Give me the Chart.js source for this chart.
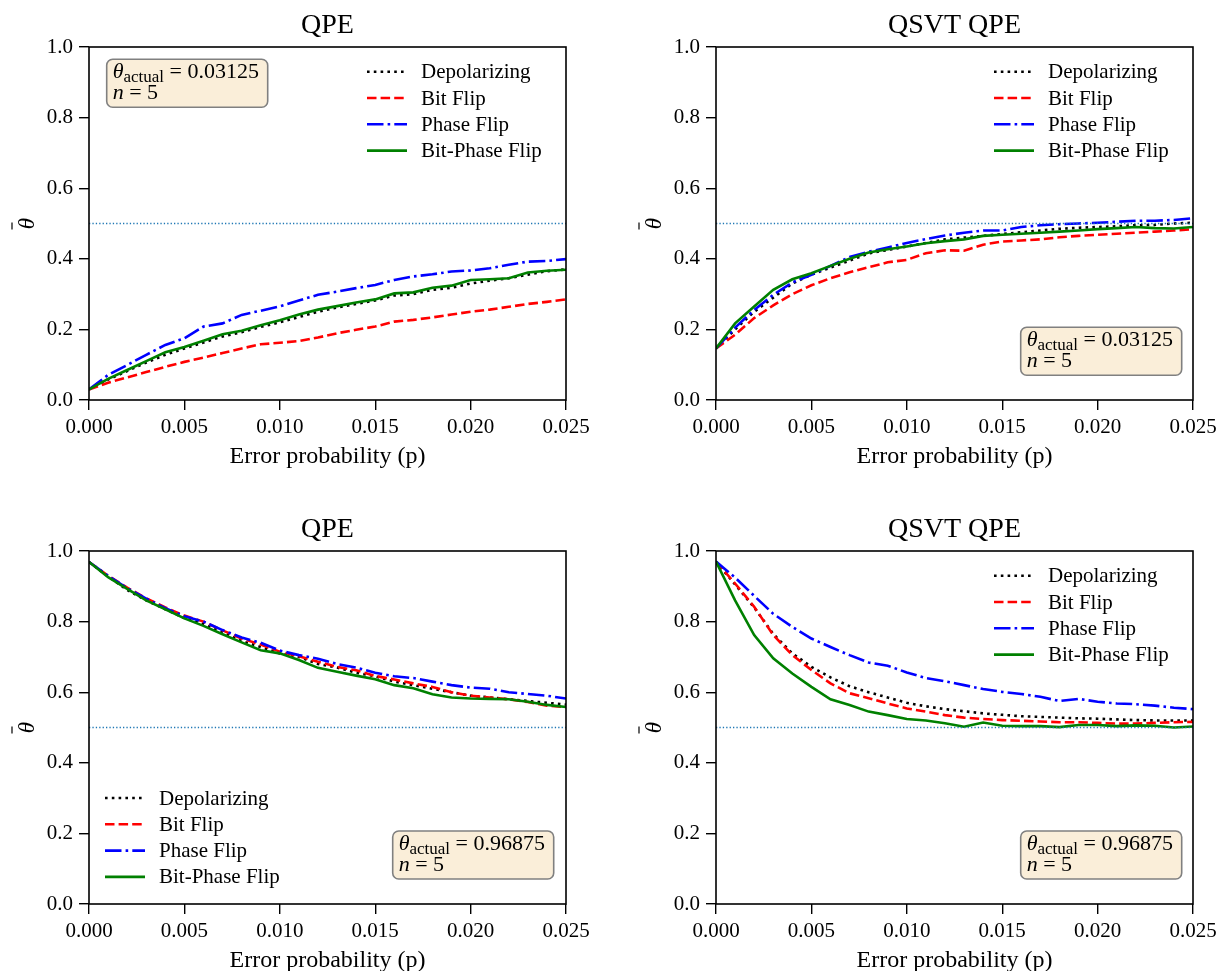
<!DOCTYPE html>
<html>
<head>
<meta charset="utf-8">
<script src="https://cdn.jsdelivr.net/npm/chart.js@4.4.1/dist/chart.umd.min.js"></script>
<style>
  html, body { margin: 0; padding: 0; background: #fff; }
  #wrap { position: relative; width: 1216px; height: 971px; }
  #wrap canvas { position: absolute; left: 0; top: 0; }
</style>
</head>
<body>
<div id="wrap">
  <canvas id="c-tl" width="1216" height="971"></canvas>
  <canvas id="c-tr" width="1216" height="971"></canvas>
  <canvas id="c-bl" width="1216" height="971"></canvas>
  <canvas id="c-br" width="1216" height="971"></canvas>
</div>
<script>
// error probability p (x values)
const pValues = [0, 0.001, 0.002, 0.003, 0.004, 0.005, 0.006, 0.007, 0.008, 0.009, 0.010, 0.011, 0.012,
                 0.013, 0.014, 0.015, 0.016, 0.017, 0.018, 0.019, 0.020, 0.021, 0.022, 0.023, 0.024, 0.025];
const xTicks = [0, 0.005, 0.010, 0.015, 0.020, 0.025];
const yTicks = [0, 0.2, 0.4, 0.6, 0.8, 1.0];
const refLine = 0.5;

const seriesNames = ['Depolarizing', 'Bit Flip', 'Phase Flip', 'Bit-Phase Flip'];

// QPE, theta_actual = 0.03125
const qpeLowDepol    = [0.030, 0.058, 0.082, 0.106, 0.128, 0.146, 0.163, 0.180, 0.192, 0.207, 0.220, 0.235, 0.250, 0.262, 0.272, 0.282, 0.296, 0.300, 0.312, 0.318, 0.330, 0.338, 0.345, 0.355, 0.365, 0.370];
const qpeLowBit      = [0.030, 0.049, 0.064, 0.079, 0.094, 0.108, 0.120, 0.133, 0.146, 0.158, 0.162, 0.167, 0.177, 0.189, 0.199, 0.208, 0.222, 0.227, 0.234, 0.242, 0.250, 0.256, 0.264, 0.272, 0.278, 0.285];
const qpeLowPhase    = [0.030, 0.071, 0.099, 0.128, 0.156, 0.175, 0.208, 0.217, 0.241, 0.253, 0.265, 0.282, 0.298, 0.307, 0.317, 0.326, 0.340, 0.350, 0.356, 0.364, 0.367, 0.373, 0.383, 0.392, 0.394, 0.399];
const qpeLowBitPhase = [0.030, 0.060, 0.085, 0.110, 0.135, 0.150, 0.168, 0.186, 0.196, 0.212, 0.226, 0.242, 0.256, 0.266, 0.276, 0.285, 0.302, 0.305, 0.318, 0.324, 0.340, 0.342, 0.345, 0.361, 0.366, 0.369];

// QSVT QPE, theta_actual = 0.03125
const qsvtLowDepol    = [0.146, 0.200, 0.250, 0.290, 0.330, 0.355, 0.375, 0.395, 0.415, 0.425, 0.435, 0.445, 0.455, 0.460, 0.465, 0.470, 0.475, 0.480, 0.485, 0.488, 0.490, 0.492, 0.495, 0.496, 0.500, 0.502];
const qsvtLowBit      = [0.146, 0.185, 0.232, 0.268, 0.300, 0.325, 0.345, 0.362, 0.376, 0.390, 0.397, 0.416, 0.424, 0.423, 0.440, 0.449, 0.452, 0.455, 0.461, 0.465, 0.468, 0.471, 0.474, 0.477, 0.480, 0.484];
const qsvtLowPhase    = [0.146, 0.205, 0.255, 0.298, 0.333, 0.355, 0.380, 0.405, 0.420, 0.432, 0.445, 0.456, 0.466, 0.474, 0.480, 0.480, 0.490, 0.495, 0.498, 0.500, 0.502, 0.505, 0.508, 0.508, 0.510, 0.515];
const qsvtLowBitPhase = [0.146, 0.217, 0.265, 0.312, 0.342, 0.359, 0.380, 0.400, 0.418, 0.427, 0.435, 0.444, 0.450, 0.455, 0.465, 0.468, 0.471, 0.474, 0.477, 0.480, 0.484, 0.487, 0.490, 0.487, 0.486, 0.490];

// QPE, theta_actual = 0.96875
const qpeHighDepol    = [0.969, 0.928, 0.890, 0.860, 0.835, 0.810, 0.793, 0.770, 0.745, 0.728, 0.710, 0.700, 0.680, 0.670, 0.655, 0.645, 0.630, 0.620, 0.610, 0.600, 0.590, 0.585, 0.580, 0.575, 0.570, 0.565];
const qpeHighBit      = [0.969, 0.930, 0.896, 0.866, 0.840, 0.817, 0.800, 0.775, 0.752, 0.735, 0.715, 0.702, 0.686, 0.672, 0.662, 0.646, 0.636, 0.625, 0.615, 0.600, 0.590, 0.585, 0.580, 0.572, 0.562, 0.558];
const qpeHighPhase    = [0.969, 0.930, 0.895, 0.865, 0.838, 0.815, 0.800, 0.776, 0.755, 0.740, 0.718, 0.705, 0.695, 0.680, 0.670, 0.655, 0.645, 0.640, 0.630, 0.620, 0.613, 0.610, 0.600, 0.595, 0.590, 0.582];
const qpeHighBitPhase = [0.969, 0.926, 0.893, 0.860, 0.835, 0.809, 0.788, 0.764, 0.741, 0.719, 0.710, 0.691, 0.669, 0.658, 0.647, 0.637, 0.620, 0.611, 0.594, 0.585, 0.582, 0.581, 0.580, 0.573, 0.564, 0.558];

// QSVT QPE, theta_actual = 0.96875
const qsvtHighDepol    = [0.970, 0.905, 0.840, 0.765, 0.710, 0.672, 0.642, 0.617, 0.600, 0.585, 0.570, 0.560, 0.552, 0.546, 0.540, 0.536, 0.532, 0.530, 0.528, 0.526, 0.525, 0.523, 0.521, 0.520, 0.520, 0.520];
const qsvtHighBit      = [0.970, 0.908, 0.842, 0.762, 0.705, 0.663, 0.625, 0.597, 0.583, 0.568, 0.554, 0.545, 0.535, 0.528, 0.524, 0.521, 0.519, 0.517, 0.515, 0.515, 0.513, 0.511, 0.511, 0.513, 0.515, 0.516];
const qsvtHighPhase    = [0.970, 0.925, 0.873, 0.822, 0.785, 0.752, 0.728, 0.705, 0.684, 0.675, 0.656, 0.640, 0.631, 0.620, 0.609, 0.601, 0.595, 0.587, 0.575, 0.581, 0.573, 0.568, 0.566, 0.562, 0.556, 0.552];
const qsvtHighBitPhase = [0.970, 0.860, 0.762, 0.696, 0.653, 0.615, 0.580, 0.564, 0.545, 0.535, 0.524, 0.520, 0.512, 0.502, 0.514, 0.505, 0.504, 0.504, 0.501, 0.507, 0.507, 0.504, 0.506, 0.505, 0.500, 0.503];

const SERIF = '"Liberation Serif", "Times New Roman", serif';
const lineStyles = [
  { color: '#000000', dash: [2.6, 4.2] },
  { color: '#ff0000', dash: [9.5, 4.1] },
  { color: '#0000ff', dash: [16.5, 4.1, 2.6, 4.1] },
  { color: '#008000', dash: [] }
];

// draws frame, title, legend, info box and the bar over the y label
const panelDecor = {
  id: 'panelDecor',
  afterDraw(chart, args, opts) {
    const { ctx, chartArea: a } = chart;
    ctx.save();
    ctx.strokeStyle = '#000';
    ctx.lineWidth = 1.6;
    ctx.setLineDash([]);
    ctx.strokeRect(a.left, a.top, a.right - a.left, a.bottom - a.top);

    // bar of theta-bar (y label drawn by the scale)
    const cy = (a.top + a.bottom) / 2;
    ctx.lineWidth = 1.2;
    ctx.beginPath();
    ctx.moveTo(a.left - 77, cy - 1);
    ctx.lineTo(a.left - 77, cy + 6);
    ctx.stroke();

    ctx.fillStyle = '#000';
    ctx.font = '28px ' + SERIF;
    ctx.textAlign = 'center';
    ctx.textBaseline = 'alphabetic';
    ctx.fillText(opts.title, (a.left + a.right) / 2, a.top - 14);

    // legend
    const lg = opts.legend;
    ctx.font = '21px ' + SERIF;
    ctx.textAlign = 'left';
    ctx.textBaseline = 'middle';
    seriesNames.forEach((name, i) => {
      const y = a.top + lg.y + i * 26.3;
      ctx.strokeStyle = lineStyles[i].color;
      ctx.lineWidth = 2.6;
      ctx.lineCap = 'butt';
      ctx.setLineDash(lineStyles[i].dash);
      ctx.beginPath();
      ctx.moveTo(a.left + lg.x, y);
      ctx.lineTo(a.left + lg.x + 40, y);
      ctx.stroke();
      ctx.fillStyle = '#000';
      ctx.fillText(name, a.left + lg.x + 54, y + 1);
    });

    // info box
    const bx = a.left + opts.box.x, by = a.top + opts.box.y;
    ctx.setLineDash([]);
    ctx.beginPath();
    ctx.roundRect(bx, by, 161, 48, 6);
    ctx.fillStyle = '#faeed9';
    ctx.fill();
    ctx.strokeStyle = '#808080';
    ctx.lineWidth = 1.6;
    ctx.stroke();
    ctx.fillStyle = '#000';
    ctx.textBaseline = 'alphabetic';
    let tx = bx + 6;
    const l1 = by + 19, l2 = by + 40;
    ctx.font = 'italic 22px ' + SERIF;
    ctx.fillText('θ', tx, l1);
    tx += ctx.measureText('θ').width;
    ctx.font = '17px ' + SERIF;
    ctx.fillText('actual', tx, l1 + 4);
    tx += ctx.measureText('actual').width;
    ctx.font = '22px ' + SERIF;
    ctx.fillText(' = ' + opts.theta, tx, l1);
    tx = bx + 6;
    ctx.font = 'italic 22px ' + SERIF;
    ctx.fillText('n', tx, l2);
    tx += ctx.measureText('n').width;
    ctx.font = '22px ' + SERIF;
    ctx.fillText(' = 5', tx, l2);
    ctx.restore();
  }
};

function makeChart(id, area, title, series, legend, box, theta) {
  const datasets = series.map((vals, i) => ({
    label: seriesNames[i],
    data: pValues.map((p, k) => ({ x: p, y: vals[k] })),
    borderColor: lineStyles[i].color,
    borderDash: lineStyles[i].dash,
    borderWidth: 2.6,
    borderCapStyle: 'butt',
    pointRadius: 0,
    tension: 0,
    order: 4 - i
  }));
  datasets.push({
    label: 'ref',
    data: [{ x: xTicks[0], y: refLine }, { x: xTicks[xTicks.length - 1], y: refLine }],
    borderColor: '#1f77b4',
    borderDash: [1.3, 2.1],
    borderWidth: 1.3,
    pointRadius: 0,
    order: 0
  });

  new Chart(document.getElementById(id), {
    type: 'line',
    data: { datasets },
    plugins: [panelDecor],
    options: {
      responsive: false,
      animation: false,
      devicePixelRatio: 1,
      layout: {
        padding: { left: area.l - 89, top: area.t, right: 1216 - area.r, bottom: 971 - area.b - 67 }
      },
      plugins: {
        legend: { display: false },
        tooltip: { enabled: false },
        panelDecor: { title, legend, box, theta }
      },
      scales: {
        x: {
          type: 'linear',
          min: xTicks[0],
          max: xTicks[xTicks.length - 1],
          afterBuildTicks: s => { s.ticks = xTicks.map(v => ({ value: v })); },
          afterFit: s => { s.height = 67; s.paddingLeft = 0; s.paddingRight = 0; },
          border: { display: false },
          grid: { drawOnChartArea: false, drawTicks: true, tickLength: 10, color: '#000', lineWidth: 1.4 },
          ticks: {
            color: '#000', padding: 5, maxRotation: 0, autoSkip: false,
            font: { family: SERIF, size: 21 },
            callback: v => Number(v).toFixed(3)
          },
          title: {
            display: true, text: 'Error probability (p)', color: '#000',
            font: { family: SERIF, size: 24 }, padding: { top: 0, bottom: -4 }
          }
        },
        y: {
          type: 'linear',
          min: yTicks[0],
          max: yTicks[yTicks.length - 1],
          afterBuildTicks: s => { s.ticks = yTicks.map(v => ({ value: v })); },
          afterFit: s => { s.width = 89; s.paddingTop = 0; s.paddingBottom = 0; },
          border: { display: false },
          grid: { drawOnChartArea: false, drawTicks: true, tickLength: 10, color: '#000', lineWidth: 1.4 },
          ticks: {
            color: '#000', padding: 6,
            font: { family: SERIF, size: 21 },
            callback: v => Number(v).toFixed(1)
          },
          title: {
            display: true, text: 'θ', color: '#000',
            font: { family: SERIF, size: 23, style: 'italic' }, padding: { top: 14, bottom: 0 }
          }
        }
      }
    }
  });
}

const legendUpperRight = { x: 278, y: 24.7 };
const legendLowerLeft = { x: 16, y: 247 };

makeChart('c-tl', { l: 89, t: 47, r: 566, b: 400 }, 'QPE',
  [qpeLowDepol, qpeLowBit, qpeLowPhase, qpeLowBitPhase], legendUpperRight, { x: 17.7, y: 12.3 }, '0.03125');
makeChart('c-tr', { l: 716, t: 47, r: 1193, b: 400 }, 'QSVT QPE',
  [qsvtLowDepol, qsvtLowBit, qsvtLowPhase, qsvtLowBitPhase], legendUpperRight, { x: 304.7, y: 280.3 }, '0.03125');
makeChart('c-bl', { l: 89, t: 551, r: 566, b: 904 }, 'QPE',
  [qpeHighDepol, qpeHighBit, qpeHighPhase, qpeHighBitPhase], legendLowerLeft, { x: 303.7, y: 280 }, '0.96875');
makeChart('c-br', { l: 716, t: 551, r: 1193, b: 904 }, 'QSVT QPE',
  [qsvtHighDepol, qsvtHighBit, qsvtHighPhase, qsvtHighBitPhase], legendUpperRight, { x: 304.7, y: 280 }, '0.96875');
</script>
</body>
</html>
